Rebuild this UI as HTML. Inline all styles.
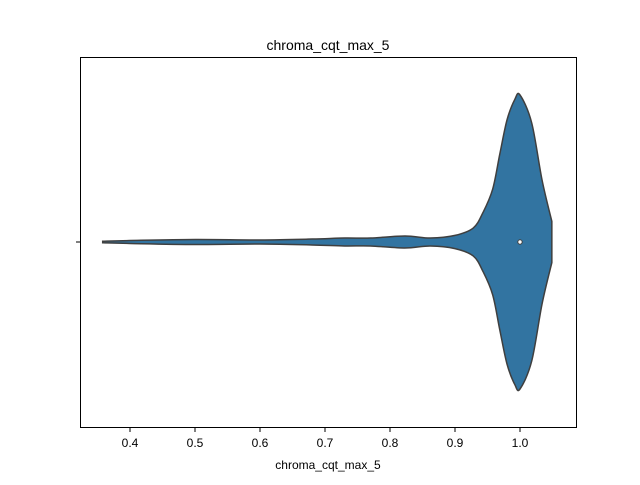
<!DOCTYPE html>
<html><head><meta charset="utf-8"><style>
body{margin:0;background:#fff}
svg text{font-family:"Liberation Sans","DejaVu Sans",sans-serif;fill:#000}
</style></head><body>
<svg id="c" width="640" height="480" xmlns="http://www.w3.org/2000/svg">
<rect x="0" y="0" width="640" height="480" fill="#fff"/>
<text x="328" y="50" font-size="14" text-anchor="middle">chroma_cqt_max_5</text>
<g id="marks"></g>
<rect x="80.5" y="57.5" width="496" height="370" fill="none" stroke="#000" stroke-width="1"/>
<line x1="76" y1="242" x2="80" y2="242" stroke="#000"/>
<g id="xticks"></g>
<text x="328" y="469" font-size="12" text-anchor="middle">chroma_cqt_max_5</text>
</svg>
<script>
const xTicks=[0.4,0.5,0.6,0.7,0.8,0.9,1.0];
const xTickLabels=["0.4","0.5","0.6","0.7","0.8","0.9","1.0"];
const gridValues=[0.358,0.4,0.5,0.6,0.68,0.73,0.77,0.823,0.862,0.9,0.928,0.943,0.958,0.969,0.98,0.992,1.0,1.018,1.034,1.049,1.049];
const densityValues=[0,0.01,0.017,0.014,0.02,0.027,0.027,0.041,0.027,0.045,0.095,0.2,0.36,0.6,0.83,0.97,1.0,0.81,0.42,0.14,0];
const medianValue=1.0;
const NS="http://www.w3.org/2000/svg";
const xs=v=>130+(v-0.4)*650;
const cy=242, hw=147;
const ws=d=>d*hw;
const marks=document.getElementById('marks');
const upperPts=[],lowerPts=[];
const n=gridValues.length;
for(let i=0;i<n;i++){
  let d=densityValues[i];
  if(i===n-1) d=densityValues[n-2];
  upperPts.push([xs(gridValues[i]),cy-Math.max(ws(d),0.8)]);
  lowerPts.push([xs(gridValues[i]),cy+Math.max(ws(d),0.8)]);
}
function smooth(pts){
  let s="M"+pts[0][0]+","+pts[0][1];
  for(let i=0;i<pts.length-1;i++){
    const p0=pts[Math.max(i-1,0)],p1=pts[i],p2=pts[i+1],p3=pts[Math.min(i+2,pts.length-1)];
    const c1=[p1[0]+(p2[0]-p0[0])/6,p1[1]+(p2[1]-p0[1])/6];
    const c2=[p2[0]-(p3[0]-p1[0])/6,p2[1]-(p3[1]-p1[1])/6];
    s+=" C"+c1+" "+c2+" "+p2;
  }
  return s;
}
const tp=upperPts.slice(0,n-1), bp=lowerPts.slice(0,n-1).reverse();
const pathD=smooth(tp)+" L"+upperPts[n-1]+" L"+lowerPts[n-1]+" L"+bp[0]+smooth(bp).replace(/^M[^ ]+/,"")+" Z";
const path=document.createElementNS(NS,'path');
path.setAttribute('d',pathD);
path.setAttribute('fill','#3274a1');
path.setAttribute('stroke','#3f3f3f');
path.setAttribute('stroke-width','1.5');


marks.appendChild(path);
const m=document.createElementNS(NS,'circle');
m.setAttribute('cx',xs(medianValue));m.setAttribute('cy',cy);m.setAttribute('r','2.2');
m.setAttribute('fill','#fff');m.setAttribute('stroke','#3f3f3f');m.setAttribute('stroke-width','1');


marks.appendChild(m);
const xt=document.getElementById('xticks');
xTicks.forEach((v,i)=>{
  const l=document.createElementNS(NS,'line');
  l.setAttribute('x1',xs(v));l.setAttribute('x2',xs(v));l.setAttribute('y1',428);l.setAttribute('y2',432);l.setAttribute('stroke','#000');
  
  
  xt.appendChild(l);
  const t=document.createElementNS(NS,'text');
  t.setAttribute('x',xs(v));t.setAttribute('y',447);t.setAttribute('font-size','12');t.setAttribute('text-anchor','middle');
  t.textContent=xTickLabels[i];
  
  
  xt.appendChild(t);
});
</script>
</body></html>
